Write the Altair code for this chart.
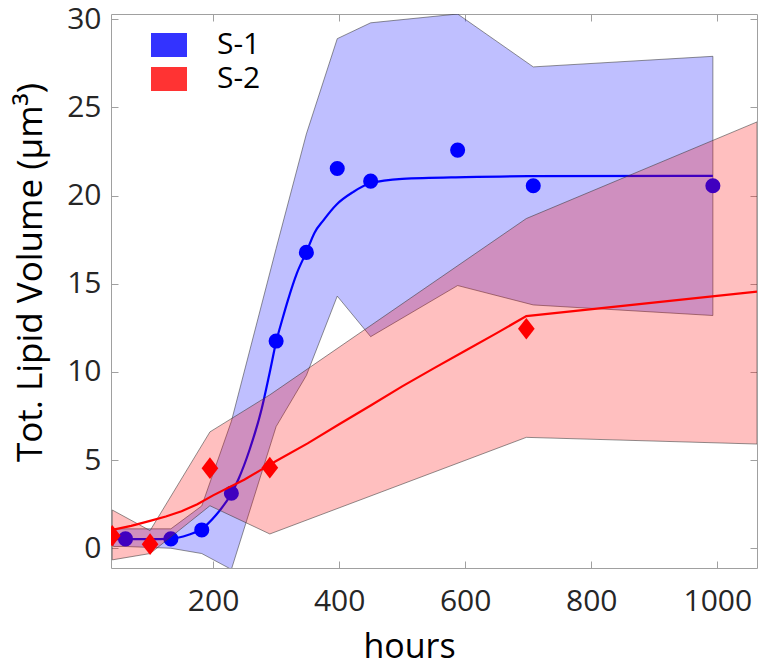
import altair as alt
import pandas as pd

# ---- S-1: measured points, spread band and fitted curve ----
s1_hours = [61, 133, 182, 229, 300, 348, 397, 450, 588, 708, 993]
s1_volume = [0.53, 0.53, 1.04, 3.12, 11.75, 16.78, 21.54, 20.82, 22.58, 20.56, 20.56]

s1_band_hours = [42, 61, 133, 182, 229, 300, 348, 397, 450, 588, 708, 993]
s1_band_low = [0.1, 0.1, 0.0, -0.3, -1.2, 6.9, 9.8, 14.3, 12.0, 14.9, 13.8, 13.2]
s1_band_high = [1.1, 1.1, 1.1, 2.4, 7.2, 17.0, 23.5, 28.9, 29.8, 30.3, 27.3, 27.9]

s1_fit_hours = [42, 61, 100, 133, 160, 180, 205, 229, 240, 258, 277, 290, 300,
                310, 319, 333, 348, 361, 375, 396, 422, 449, 500, 600, 700, 993]
s1_fit_volume = [0.52, 0.52, 0.52, 0.55, 0.75, 1.05, 1.9, 3.1, 3.9, 5.6, 7.9, 10.0, 11.7,
                 13.0, 14.1, 15.6, 16.8, 17.9, 18.6, 19.5, 20.2, 20.7, 20.95, 21.05, 21.1, 21.12]

# ---- S-2: measured points, spread band and fitted curve ----
s2_hours = [40, 100, 195, 290, 697]
s2_volume = [0.71, 0.23, 4.54, 4.57, 12.45]

s2_band_hours = [40, 100, 195, 290, 697, 1063]
s2_band_low = [-0.66, -0.3, 2.41, 0.81, 6.29, 5.91]
s2_band_high = [2.17, 1.0, 6.6, 8.7, 18.7, 24.18]

s2_fit_hours = [40, 70, 100, 125, 150, 175, 200, 250, 290, 300, 350, 400, 450,
                500, 550, 600, 650, 697, 1063]
s2_fit_volume = [1.04, 1.27, 1.55, 1.8, 2.1, 2.5, 3.0, 3.9, 4.74, 4.95, 5.95, 7.03, 8.1,
                 9.18, 10.2, 11.2, 12.2, 13.17, 14.55]

series_names = ["S-1", "S-2"]
series_colors = ["#0000FF", "#FF0000"]
x_ticks = [200, 400, 600, 800, 1000]
y_ticks = [0, 5, 10, 15, 20, 25, 30]
x_range = [38, 1063]
y_range = [-1.12, 30.3]

FONT = "Open Sans"
AXIS_GRAY = "#A0A0A0"
TEXT_DARK = "#262626"
DIAMOND = "M0,-1L0.77,0L0,1L-0.77,0Z"
SWATCH = "M-1,-0.667L1,-0.667L1,0.667L-1,0.667Z"

band1 = pd.DataFrame({"hours": s1_band_hours, "low": s1_band_low,
                      "high": s1_band_high, "series": series_names[0]})
band2 = pd.DataFrame({"hours": s2_band_hours, "low": s2_band_low,
                      "high": s2_band_high, "series": series_names[1]})
pts1 = pd.DataFrame({"hours": s1_hours, "volume": s1_volume})
pts2 = pd.DataFrame({"hours": s2_hours, "volume": s2_volume})
fit1 = pd.DataFrame({"hours": s1_fit_hours, "volume": s1_fit_volume})
fit2 = pd.DataFrame({"hours": s2_fit_hours, "volume": s2_fit_volume})

x_scale = alt.Scale(domain=x_range, nice=False, zero=False)
y_scale = alt.Scale(domain=y_range, nice=False, zero=False)
fill_scale = alt.Scale(domain=series_names, range=series_colors)

legend = alt.Legend(
    orient="none", legendX=40, legendY=13, title=None,
    symbolType=SWATCH, symbolSize=1296, symbolOpacity=0.8, symbolStrokeWidth=0,
    labelFont=FONT, labelFontSize=30, labelColor="black", labelOffset=30,
    rowPadding=1, padding=0,
)

# Axes: labelled axes plus inward-pointing tick rows on every side
x_main = alt.Axis(values=x_ticks, orient="bottom", format="d", ticks=False, domain=False,
                  grid=False, labelFont=FONT, labelFontSize=30, labelColor=TEXT_DARK,
                  labelPadding=18, title="hours", titleFont=FONT, titleFontSize=34,
                  titleFontWeight="normal", titleColor="black", titleX=298, titleY=89,
                  titleBaseline="alphabetic", titleAlign="center")
y_main = alt.Axis(values=y_ticks, orient="left", format="d", ticks=False, domain=False,
                  grid=False, labelFont=FONT, labelFontSize=30, labelColor=TEXT_DARK,
                  labelPadding=10, title="Tot. Lipid Volume (μm³)", titleFont=FONT,
                  titleFontSize=35, titleFontWeight="normal", titleColor="black",
                  titleAngle=270, titleX=-70, titleY=258, titleBaseline="alphabetic",
                  titleAlign="center")


def tick_axis(vals, orient):
    return alt.Axis(values=vals, orient=orient, offset=-7, tickSize=7, tickColor=AXIS_GRAY,
                    tickWidth=1, labels=False, domain=False, grid=False, title=None)


s1_band = alt.Chart(band1).mark_area(
    fillOpacity=0.25, stroke="#3A3A3A", strokeWidth=0.7, strokeOpacity=0.8, clip=True
).encode(
    x=alt.X("hours:Q", scale=x_scale, axis=x_main),
    y=alt.Y("high:Q", scale=y_scale, axis=y_main),
    y2="low:Q",
    fill=alt.Fill("series:N", scale=fill_scale, legend=legend),
)

s1_line = alt.Chart(fit1).mark_line(
    color="#0000FF", strokeWidth=2.2, interpolate="monotone", clip=True
).encode(
    x=alt.X("hours:Q", scale=x_scale, axis=tick_axis(x_ticks, "bottom")),
    y=alt.Y("volume:Q", scale=y_scale, axis=tick_axis(y_ticks, "left")),
)

s1_points = alt.Chart(pts1).mark_point(
    shape="circle", filled=True, size=227, color="#0000FF", opacity=1, clip=True
).encode(
    x=alt.X("hours:Q", scale=x_scale, axis=tick_axis(x_ticks, "top")),
    y=alt.Y("volume:Q", scale=y_scale, axis=tick_axis(y_ticks, "right")),
)

s2_band = alt.Chart(band2).mark_area(
    fillOpacity=0.25, stroke="#3A3A3A", strokeWidth=0.7, strokeOpacity=0.8, clip=True
).encode(
    x=alt.X("hours:Q", scale=x_scale, axis=None),
    y=alt.Y("high:Q", scale=y_scale, axis=None),
    y2="low:Q",
    fill=alt.Fill("series:N", scale=fill_scale, legend=legend),
)

s2_line = alt.Chart(fit2).mark_line(
    color="#FF0000", strokeWidth=2.2, interpolate="linear", clip=True
).encode(
    x=alt.X("hours:Q", scale=x_scale, axis=None),
    y=alt.Y("volume:Q", scale=y_scale, axis=None),
)

s2_points = alt.Chart(pts2).mark_point(
    shape=DIAMOND, filled=True, size=471, color="#FF0000", opacity=1, clip=True
).encode(
    x=alt.X("hours:Q", scale=x_scale, axis=None),
    y=alt.Y("volume:Q", scale=y_scale, axis=None),
)

chart = alt.layer(
    s1_band, s1_line, s1_points, s2_band, s2_line, s2_points
).resolve_axis(
    x="independent", y="independent"
).properties(
    width=646, height=554,
    autosize=alt.AutoSizeParams(type="none"),
    padding={"left": 111, "top": 14, "right": 1, "bottom": 92},
    background="white",
).configure_view(
    stroke=AXIS_GRAY, strokeWidth=1
)

chart.save("out.html", embed_options={"renderer": "svg", "actions": False})
